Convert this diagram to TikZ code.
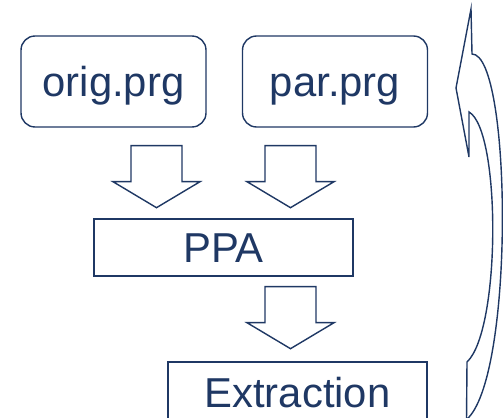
\documentclass[tikz,border=0pt]{standalone}
\usepackage{xcolor}
\usepackage{fontspec}
\usepackage{tikz}
\usetikzlibrary{calc}
\setmainfont{Liberation Sans}

\definecolor{navy}{RGB}{31,56,100}

\tikzset{
    prgbox/.style={draw=navy,line width=0.8pt,rectangle,rounded corners=0.28cm,
        minimum width=3.7cm,minimum height=1.82cm,inner sep=0pt,text=navy,
        text height=21.4pt,text depth=3.8pt,
        font=\fontsize{23.8pt}{28pt}\selectfont},
    stagebox/.style={draw=navy,line width=0.8pt,rectangle,
        minimum width=5.18cm,inner sep=0pt,text=navy,
        text height=21.4pt,text depth=3.8pt,
        font=\fontsize{23.8pt}{28pt}\selectfont},
    blockarrow/.style={draw=navy,line width=0.8pt,line join=miter}
}

% block arrow pointing down, top centre at #1
\newcommand{\blockdown}[1]{
    \draw[blockarrow] (#1) ++(-25.5,0) -- ++(0,36) -- ++(-18,0) -- ++(43.5,26)
        -- ++(43.5,-26) -- ++(-18,0) -- ++(0,-36) -- cycle;
}

\begin{document}
\begin{tikzpicture}[x=0.02cm,y=-0.02cm]
        \useasboundingbox (0,0) rectangle (503,418);
        \clip (0,0) rectangle (503,418);

        \node[prgbox] (orig) at (113.5,81.5) {orig.prg};
        \node[prgbox] (par) at (335,81.5) {par.prg};
        \node[stagebox,minimum height=1.14cm] (ppa) at (223.5,247.5) {PPA};
        \node[stagebox,minimum height=1.2cm] (extr) at (297.5,392) {Extraction};

        \coordinate (a1) at ($(orig.south)+(43,18)$);
        \coordinate (a2) at ($(par.south)+(-44.5,18)$);
        \coordinate (a3) at ($(ppa.south)+(67,10)$);
        \blockdown{a1}
        \blockdown{a2}
        \blockdown{a3}

        % curved arrow back up
        \coordinate (loop) at (466,420);
        \draw[blockarrow] (loop) .. controls (515,380) and (512,54) .. (472,54)
            -- (471,9) -- (456,88) -- (469,157) -- (469,112)
            .. controls (501,130) and (501,330) .. (467,362) -- (466.5,420);
    \end{tikzpicture}
\end{document}
